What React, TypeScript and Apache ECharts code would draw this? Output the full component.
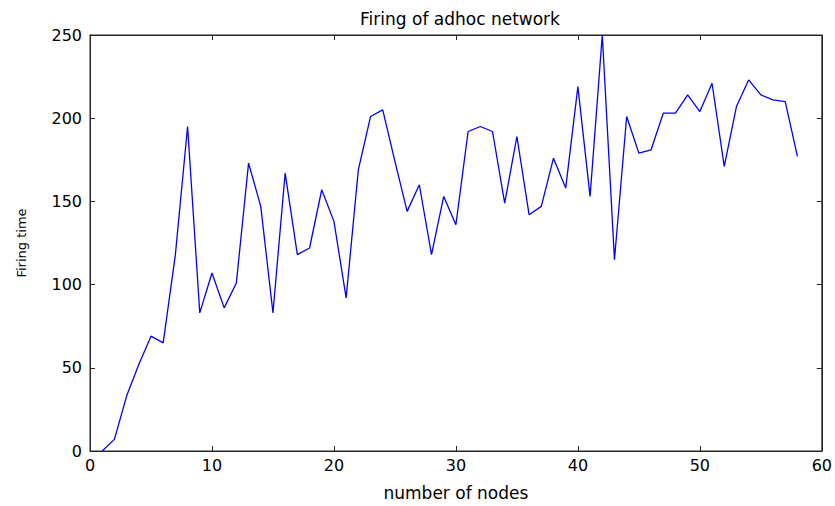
import React, { useEffect, useRef } from "react";
import * as echarts from "echarts";

const nodes: number[] = Array.from({ length: 58 }, (_, i) => i + 1);
const firingTime: number[] = [
  0, 7, 33, 52, 69, 65, 118, 195, 83, 107, 86, 101, 173, 147, 83, 167, 118, 122, 157, 138,
  92, 169, 201, 205, 174, 144, 160, 118, 153, 136, 192, 195, 192, 149, 189, 142, 147, 176, 158, 219,
  153, 250, 115, 201, 179, 181, 203, 203, 214, 204, 221, 171, 207, 223, 214, 211, 210, 177,
];
const title = "Firing of adhoc network";
const xName = "number of nodes";
const yName = "Firing time";

export default function App() {
  const ref = useRef<HTMLDivElement>(null);
  useEffect(() => {
    if (!ref.current) return;
    const chart = echarts.init(ref.current, undefined, { renderer: "svg" });
    const font = "DejaVu Sans";
    const axisColor = "#262626";
    const common = {
      axisLine: { show: true, onZero: false, lineStyle: { color: axisColor, width: 1 } },
      axisTick: { show: true, inside: true, length: 5, lineStyle: { color: axisColor } },
      splitLine: { show: false },
    };
    const points = nodes.map((n, i) => [n, firingTime[i]]);
    chart.setOption({
      animation: false,
      backgroundColor: "#ffffff",
      title: {
        text: title,
        left: 455,
        top: 5,
        textAlign: "center",
        textStyle: { fontFamily: font, fontSize: 17, fontWeight: "normal", color: "#000" },
      },
      grid: {
        left: 90,
        right: 13,
        top: 35,
        bottom: 48,
        containLabel: false,
        show: true,
        borderColor: axisColor,
        borderWidth: 1,
        backgroundColor: "transparent",
      },
      xAxis: [
        {
          type: "value",
          min: 0,
          max: 60,
          interval: 10,
          name: xName,
          nameLocation: "middle",
          nameGap: 33,
          nameTextStyle: { fontFamily: font, fontSize: 17, color: "#000" },
          axisLabel: { fontFamily: font, fontSize: 16, color: "#000", margin: 6 },
          ...common,
        },
        {
          type: "value",
          position: "top",
          min: 0,
          max: 60,
          interval: 10,
          axisLabel: { show: false },
          ...common,
        },
      ],
      yAxis: [
        {
          type: "value",
          min: 0,
          max: 250,
          interval: 50,
          name: yName,
          nameLocation: "middle",
          nameGap: 62,
          nameTextStyle: { fontFamily: font, fontSize: 13, color: "#000" },
          axisLabel: { fontFamily: font, fontSize: 16, color: "#000", margin: 8 },
          ...common,
        },
        {
          type: "value",
          position: "right",
          min: 0,
          max: 250,
          interval: 50,
          axisLabel: { show: false },
          ...common,
        },
      ],
      series: [
        {
          type: "line",
          data: points,
          showSymbol: false,
          symbol: "none",
          lineStyle: { color: "#0000ff", width: 1.3 },
          xAxisIndex: 0,
          yAxisIndex: 0,
          z: 3,
        },
        {
          type: "line",
          data: points,
          showSymbol: false,
          symbol: "none",
          lineStyle: { opacity: 0, width: 0 },
          xAxisIndex: 1,
          yAxisIndex: 1,
          silent: true,
        },
      ],
    });
    return () => chart.dispose();
  }, []);
  return (
    <div
      ref={ref}
      style={{ position: "fixed", left: 0, top: 0, width: 835, height: 506 }}
    />
  );
}
